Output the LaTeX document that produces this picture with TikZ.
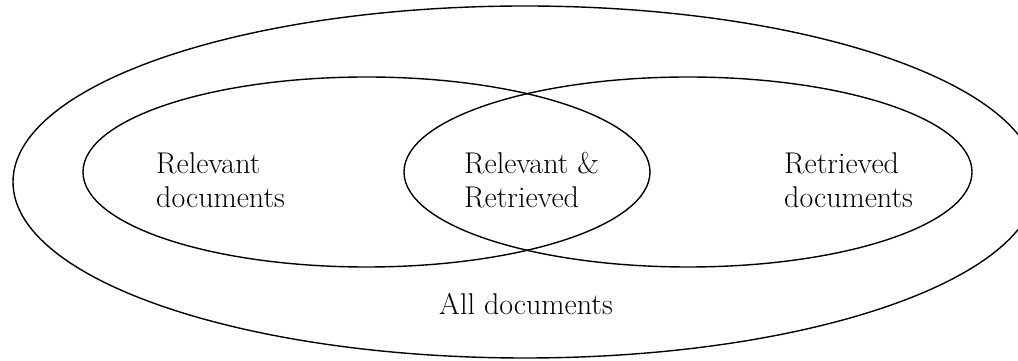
\documentclass[tikz,border=0pt]{standalone}
\usetikzlibrary{shapes.geometric}
\begin{document}
\begin{tikzpicture}[x=1pt,y=1pt,
  setline/.style={draw=black,line width=1.4pt,ellipse,inner sep=0pt},
  lbl/.style={inner sep=0pt,align=left,font=\fontsize{30}{34}\selectfont}]
\useasboundingbox (0,0) rectangle (1018,361);
\clip (0,0) rectangle (1018,361);
\fill[white] (0,0) rectangle (1018,361);
% sets
\node[setline,minimum width=1024pt,minimum height=352pt] (all) at (525,179) {};
\node[setline,minimum width=567pt,minimum height=190pt] (rel) at (366.5,189) {};
\node[setline,minimum width=568pt,minimum height=190pt] (ret) at (688,189) {};
% labels
\node[lbl,anchor=north west] (lrel) at (156,209) {Relevant\\documents};
\node[lbl,anchor=north west] (lboth) at (464,209) {Relevant \&\\Retrieved};
\node[lbl,anchor=north west] (lret) at (784,209) {Retrieved\\documents};
\node[lbl,anchor=base] (lall) at (526,46) {All documents};
\end{tikzpicture}
\end{document}
